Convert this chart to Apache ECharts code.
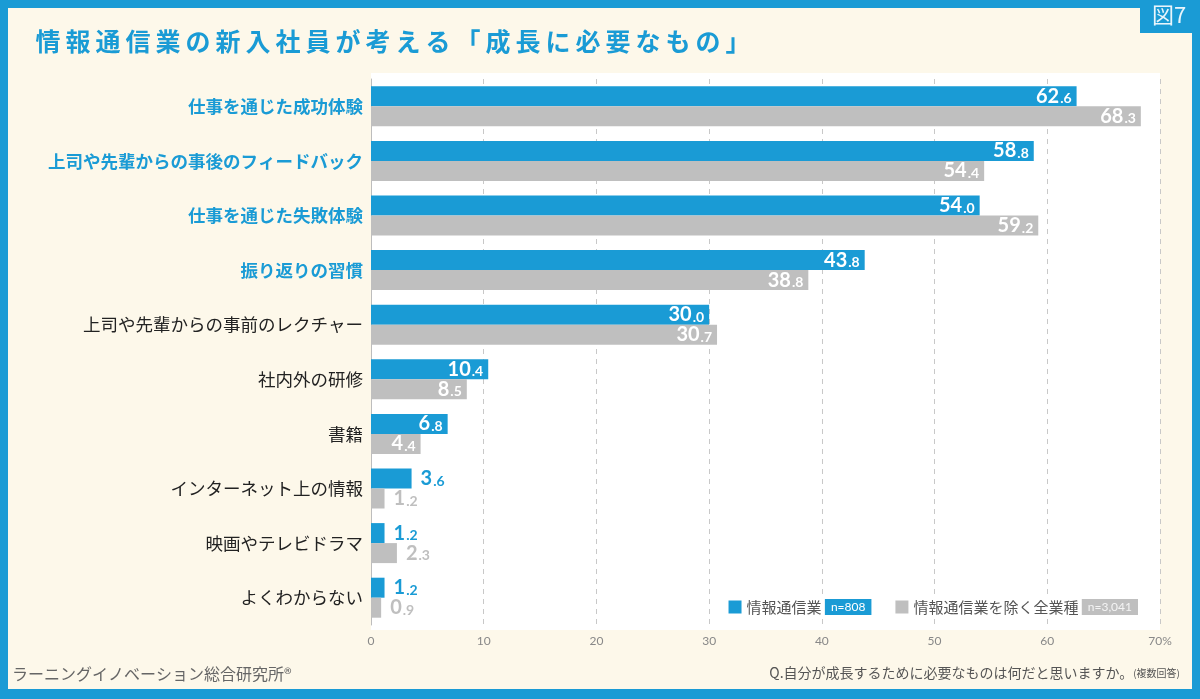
<!DOCTYPE html>
<html>
<head>
<meta charset="utf-8">
<script src="https://cdn.jsdelivr.net/npm/echarts@6/dist/echarts.min.js"></script>
<style>
  html, body { margin: 0; padding: 0; background: #1a9bd5; }
  #chart { width: 1200px; height: 699px; }
</style>
</head>
<body>
<div id="chart"></div>
<script>
const categories = [
  '仕事を通じた成功体験',
  '上司や先輩からの事後のフィードバック',
  '仕事を通じた失敗体験',
  '振り返りの習慣',
  '上司や先輩からの事前のレクチャー',
  '社内外の研修',
  '書籍',
  'インターネット上の情報',
  '映画やテレビドラマ',
  'よくわからない'
];
const highlighted = 4; // first four labels are blue
const ictValues = [62.6, 58.8, 54.0, 43.8, 30.0, 10.4, 6.8, 3.6, 1.2, 1.2];
const allValues = [68.3, 54.4, 59.2, 38.8, 30.7, 8.5, 4.4, 1.2, 2.3, 0.9];
const seriesNames = ['情報通信業', '情報通信業を除く全業種'];
const sampleSizes = ['n=808', 'n=3,041'];
const titleText = '情報通信業の新入社員が考える「成長に必要なもの」';

const BLUE = '#1a9bd5';
const GRAY = '#bfbfbf';
const CREAM = '#fdf8ea';
const NUM_FONT = 'Lato, "DejaVu Sans", sans-serif';
const JP_FONT = '"Noto Sans CJK JP", sans-serif';

const chart = echarts.init(document.getElementById('chart'));

function numRich(color) {
  return {
    i: { color: color, fontFamily: NUM_FONT, fontWeight: 'bold', fontSize: 20 },
    d: { color: color, fontFamily: NUM_FONT, fontWeight: 'bold', fontSize: 14, padding: [5, 0, 0, 1] }
  };
}

function makeData(values, color) {
  return values.map(v => {
    const inside = v >= 4;
    const c = inside ? '#ffffff' : color;
    return {
      value: v,
      label: {
        show: true,
        position: inside ? 'insideRight' : 'right',
        distance: inside ? 5 : 9,
        rich: numRich(c)
      }
    };
  });
}

function fmt(p) {
  const parts = p.value.toFixed(1).split('.');
  return '{i|' + parts[0] + '}{d|.' + parts[1] + '}';
}

// spaced title: each character is its own rich token with side padding
const spacedTitle = Array.from(titleText).map(ch => '{c|' + ch + '}').join('');

const option = {
  backgroundColor: BLUE,
  animation: false,
  graphic: [
    { type: 'rect', z: -10, shape: { x: 8, y: 8, width: 1184, height: 681 }, style: { fill: CREAM } },
    { type: 'rect', z: -9, shape: { x: 1140, y: 0, width: 60, height: 33 }, style: { fill: BLUE } },
    { type: 'text', z: -8, x: 1152, y: 4, style: { text: '図7', fill: '#e9f5fb', fontSize: 22, fontFamily: JP_FONT } },
    { type: 'rect', z: -9, shape: { x: 371, y: 73, width: 789, height: 557 }, style: { fill: '#ffffff' } },
    {
      type: 'text', x: 33, y: 29,
      style: {
        text: spacedTitle,
        rich: {
          c: { fill: BLUE, fontSize: 25, fontWeight: 'bold', fontFamily: JP_FONT, padding: [0, 2.5, 0, 2.5] }
        }
      }
    },
    {
      type: 'text', x: 12, y: 666,
      style: { text: 'ラーニングイノベーション総合研究所®', fill: '#666', fontSize: 16, fontFamily: JP_FONT }
    },
    {
      type: 'text', x: 1180, y: 666,
      style: {
        text: '{q|Q.自分が成長するために必要なものは何だと思いますか。}{s|(複数回答)}',
        align: 'right',
        rich: {
          q: { fill: '#555', fontSize: 14, fontFamily: JP_FONT },
          s: { fill: '#555', fontSize: 10, fontFamily: JP_FONT }
        }
      }
    }
  ],
  legend: {
    data: seriesNames,
    right: 58,
    top: 597,
    itemWidth: 13,
    itemHeight: 13,
    itemGap: 24,
    icon: 'rect',
    backgroundColor: '#ffffff',
    padding: [2, 4],
    formatter: name => name === seriesNames[0]
      ? name + ' {nb|' + sampleSizes[0] + '}'
      : name + ' {ng|' + sampleSizes[1] + '}',
    textStyle: {
      color: '#555',
      fontSize: 15,
      fontFamily: JP_FONT,
      rich: {
        nb: { backgroundColor: BLUE, color: '#fff', fontSize: 12, fontFamily: NUM_FONT, padding: [2, 6] },
        ng: { backgroundColor: GRAY, color: '#f4f4f4', fontSize: 12, fontFamily: NUM_FONT, padding: [2, 6] }
      }
    }
  },
  grid: { left: 371, right: 40, top: 79, bottom: 74, containLabel: false },
  xAxis: {
    type: 'value',
    min: 0,
    max: 70,
    interval: 10,
    position: 'bottom',
    axisLine: { show: false },
    axisTick: { show: false },
    axisLabel: {
      color: '#888',
      fontSize: 12,
      fontFamily: NUM_FONT,
      margin: 10,
      formatter: v => v === 70 ? '70%' : String(v)
    },
    splitLine: { show: true, lineStyle: { type: [5, 5], color: '#c8c8c8', width: 1 } }
  },
  yAxis: {
    type: 'category',
    inverse: true,
    data: categories.map((c, i) => ({
      value: c,
      textStyle: i < highlighted
        ? { color: BLUE, fontWeight: 'bold' }
        : { color: '#222', fontWeight: 'normal' }
    })),
    axisLine: { show: true, lineStyle: { color: '#bdbdbd', width: 1 } },
    axisTick: { show: false },
    axisLabel: { fontSize: 17.5, fontFamily: JP_FONT, margin: 8 }
  },
  series: [
    {
      name: seriesNames[0],
      type: 'bar',
      barWidth: 20,
      barGap: '0%',
      itemStyle: { color: BLUE },
      label: { show: true, formatter: fmt },
      data: makeData(ictValues, BLUE)
    },
    {
      name: seriesNames[1],
      type: 'bar',
      barWidth: 20,
      barGap: '0%',
      itemStyle: { color: GRAY },
      label: { show: true, formatter: fmt },
      data: makeData(allValues, GRAY)
    }
  ]
};

chart.setOption(option);
</script>
</body>
</html>
